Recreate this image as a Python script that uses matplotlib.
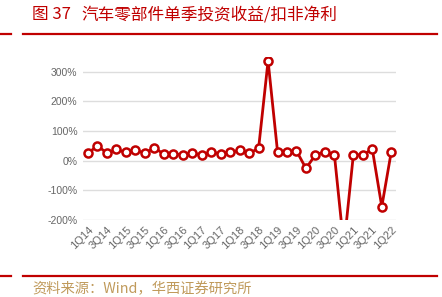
import matplotlib
matplotlib.use("Agg")
import matplotlib.pyplot as plt
from matplotlib.lines import Line2D
from matplotlib.ticker import FuncFormatter

quarters = []
for yr in range(14, 23):
    for q in range(1, 5):
        quarters.append(f"{q}Q{yr}")
quarters = quarters[:quarters.index("1Q22") + 1]

values = [25, 51, 25, 38, 28, 36, 25, 44,
          22, 22, 21, 25, 20, 28, 24, 28,
          35, 25, 42, 337, 30, 28, 33, -26,
          20, 30, 20, -290, 20, 20, 39, -155,
          30]

yticks = [-200, -100, 0, 100, 200, 300]

title_num = "图 37"
title = "汽车零部件单季投资收益/扣非净利"
source = "资料来源：Wind，华西证券研究所"

RED = "#C00000"
plt.rcParams['font.family'] = ['Liberation Sans', 'DejaVu Sans']

fig = plt.figure(figsize=(4.42, 2.97), dpi=100)
ax = fig.add_axes([83 / 442, (297 - 220) / 297, (396 - 83) / 442, (220 - 57) / 297])

x = list(range(len(values)))
ax.plot(x, values, color=RED, lw=2, marker="o", ms=5.8, mfc="white", mec=RED, mew=1.8, zorder=3)

ax.set_ylim(-200, 350)
ax.set_xlim(-0.53, len(values) - 0.5)
ax.set_yticks(yticks)
ax.yaxis.set_major_formatter(FuncFormatter(lambda v, p: f"{int(v)}%"))
ax.set_xticks(x[::2])
ax.set_xticklabels(quarters[::2], rotation=45, ha="right", va="top", rotation_mode="anchor")
ax.tick_params(axis="both", length=0, labelsize=7.5, colors="#666666")
ax.tick_params(axis="x", pad=3, labelsize=8)
ax.tick_params(axis="y", pad=4)
ax.grid(axis="y", color="#dddddd", lw=1)
ax.set_axisbelow(True)
for s in ax.spines.values():
    s.set_visible(False)

cjk = ['Noto Sans CJK SC', 'DejaVu Sans']
fig.text(32 / 442, 1 - 15 / 297, title_num, fontsize=12, color=RED, family=cjk, va="center", ha="left")
fig.text(81 / 442, 1 - 15 / 297, title, fontsize=12, color=RED, family=cjk, va="center", ha="left")
fig.text(32 / 442, 1 - 289 / 297, source, fontsize=10.3, color="#C09A5B", family=cjk, va="center", ha="left")

for yy in (34.3, 276.3):
    yf = 1 - yy / 297
    fig.add_artist(Line2D([23 / 442, 437 / 442], [yf, yf], color=RED, lw=1.6))
    fig.add_artist(Line2D([0, 11 / 442], [yf, yf], color=RED, lw=1.6))

fig.savefig("out.png", dpi=100)
